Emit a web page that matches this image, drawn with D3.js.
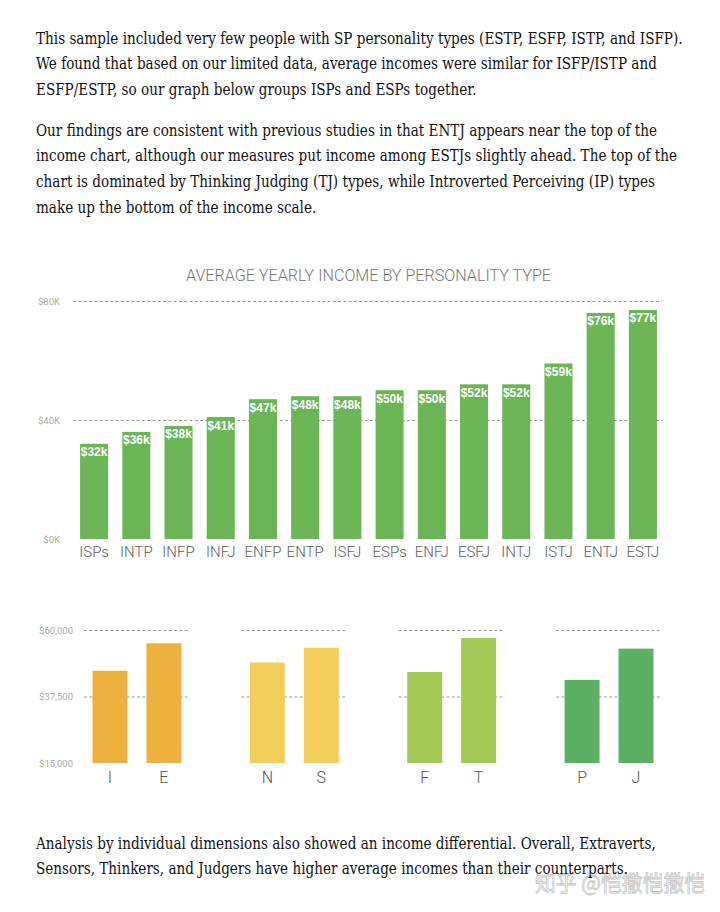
<!DOCTYPE html>
<html><head><meta charset="utf-8">
<script src="https://cdn.jsdelivr.net/npm/d3@7"></script>
<style>body{margin:0;background:#fff;} svg{display:block}</style>
</head><body><svg id="c" width="720" height="912"></svg>
<script>
const para1 = [
  "This sample included very few people with SP personality types (ESTP, ESFP, ISTP, and ISFP).",
  "We found that based on our limited data, average incomes were similar for ISFP/ISTP and",
  "ESFP/ESTP, so our graph below groups ISPs and ESPs together."
];
const para2 = [
  "Our findings are consistent with previous studies in that ENTJ appears near the top of the",
  "income chart, although our measures put income among ESTJs slightly ahead. The top of the",
  "chart is dominated by Thinking Judging (TJ) types, while Introverted Perceiving (IP) types",
  "make up the bottom of the income scale."
];
const para3 = [
  "Analysis by individual dimensions also showed an income differential. Overall, Extraverts,",
  "Sensors, Thinkers, and Judgers have higher average incomes than their counterparts."
];
const chartTitle = "AVERAGE YEARLY INCOME BY PERSONALITY TYPE";
const types = ["ISPs","INTP","INFP","INFJ","ENFP","ENTP","ISFJ","ESPs","ENFJ","ESFJ","INTJ","ISTJ","ENTJ","ESTJ"];
const incomes = [32,36,38,41,47,48,48,50,50,52,52,59,76,77];
const incomeTicks = [0,40,80];
const dimPairs = [["I","E"],["N","S"],["F","T"],["P","J"]];
const dimIncomes = [[46200,55500],[49000,54000],[45800,57300],[43100,53700]];
const dimTicks = [15000,37500,60000];
const dimColors = ["#eeb03e","#f2cf5a","#a2c855","#5bb063"];
const mainColor = "#6cb557";
const watermark = "知乎 @恺撒恺撒恺";

const svg = d3.select("#c");
svg.append("rect").attr("width",720).attr("height",912).attr("fill","#fff");

// ---- body text ----
const bodyFont = "'DejaVu Serif', serif";
let sx = 1;
function paragraph(lines, y0, measure) {
  const g = svg.append("g");
  const t = g.selectAll("text").data(lines).join("text")
    .attr("x", 0).attr("y", (d,i) => i*26)
    .attr("font-family", bodyFont).attr("font-size", 15.8).attr("fill", "#111")
    .text(d => d);
  if (measure) sx = 647 / t.node().getComputedTextLength();
  g.attr("transform", `translate(36,${y0}) scale(${sx},1)`);
}
paragraph(para1, 43.5, true);
paragraph(para2, 135.5, false);

const sansLight = "Roboto, 'Liberation Sans', sans-serif";

// ---- main chart ----
svg.append("text").attr("x", 186).attr("y", 281)
  .attr("font-family", sansLight).attr("font-weight", 300).attr("font-size", 16)
  .attr("fill", "#777").attr("textLength", 365).attr("lengthAdjust", "spacingAndGlyphs")
  .text(chartTitle);

const x = d3.scaleBand().domain(types).range([73,664]).paddingInner(0.336).paddingOuter(0.168);
const y = d3.scaleLinear().domain([0,80]).range([539,301]);

const gy = svg.append("g").attr("transform","translate(73,0)")
  .call(d3.axisLeft(y).tickValues(incomeTicks).tickSize(-589).tickPadding(13).tickFormat(d => `$${d}K`));
gy.select(".domain").remove();
gy.selectAll(".tick line").attr("stroke","#999").attr("stroke-dasharray","3,2.3")
  .attr("display", d => d === 0 ? "none" : null);
gy.selectAll(".tick text").attr("font-family", sansLight).attr("font-size", 9.5).attr("fill","#aaa");

svg.append("g").selectAll("rect").data(types).join("rect")
  .attr("x", d => x(d)).attr("width", x.bandwidth())
  .attr("y", (d,i) => y(incomes[i])).attr("height", (d,i) => y(0) - y(incomes[i]))
  .attr("fill", mainColor);

svg.append("g").selectAll("text").data(types).join("text")
  .attr("x", d => x(d) + x.bandwidth()/2).attr("y", (d,i) => y(incomes[i]) + 12.5)
  .attr("text-anchor","middle").attr("font-family","'Liberation Sans', Arial, sans-serif")
  .attr("font-weight","bold").attr("font-size", 12).attr("fill","#fff")
  .text((d,i) => `$${incomes[i]}k`);

const gx = svg.append("g").attr("transform","translate(0,539)")
  .call(d3.axisBottom(x).tickSize(0));
gx.select(".domain").remove();
gx.selectAll(".tick text").attr("y", 18).attr("dy", null)
  .attr("font-family", sansLight).attr("font-weight", 300).attr("font-size", 15).attr("fill","#5e5e5e");

// ---- dimension charts ----
const y2 = d3.scaleLinear().domain([15000,60000]).range([763,630]);
const panel = d3.scaleBand().domain(d3.range(dimPairs.length)).range([84,662]).paddingInner(0.327);
const inner = d3.scaleBand().domain([0,1]).range([0, panel.bandwidth()]).paddingInner(0.352).paddingOuter(0.1575);

dimPairs.forEach((pair, p) => {
  const g = svg.append("g").attr("transform", `translate(${panel(p)},0)`);
  const ax = g.append("g").call(d3.axisLeft(y2).tickValues(dimTicks).tickSize(-panel.bandwidth()).tickPadding(11)
      .tickFormat(p === 0 ? d3.format("$,") : () => ""));
  ax.select(".domain").remove();
  ax.selectAll(".tick line").attr("stroke","#999").attr("stroke-dasharray","3,2.3")
    .attr("display", d => d === 15000 ? "none" : null);
  ax.selectAll(".tick text").attr("font-family", sansLight).attr("font-size", 9.5).attr("fill","#aaa");

  g.selectAll("rect.bar").data(pair).join("rect").attr("class","bar")
    .attr("x", (d,i) => inner(i)).attr("width", inner.bandwidth())
    .attr("y", (d,i) => y2(dimIncomes[p][i])).attr("height", (d,i) => y2(15000) - y2(dimIncomes[p][i]))
    .attr("fill", dimColors[p]);
  g.selectAll("text.lab").data(pair).join("text").attr("class","lab")
    .attr("x", (d,i) => inner(i) + inner.bandwidth()/2).attr("y", 783)
    .attr("text-anchor","middle").attr("font-family", sansLight).attr("font-weight",300)
    .attr("font-size", 16).attr("fill","#555").text(d => d);
});

// ---- watermark (drawn under the last paragraph) ----
svg.append("text").attr("x", 535).attr("y", 891)
  .attr("font-family","'Noto Sans CJK SC', sans-serif").attr("font-size", 22)
  .attr("fill","#fff").attr("stroke","#c4c4c4").attr("stroke-width",0.8)
  .attr("textLength", 170).attr("lengthAdjust","spacingAndGlyphs")
  .text(watermark);

paragraph(para3, 848.5, false);
</script></body></html>
